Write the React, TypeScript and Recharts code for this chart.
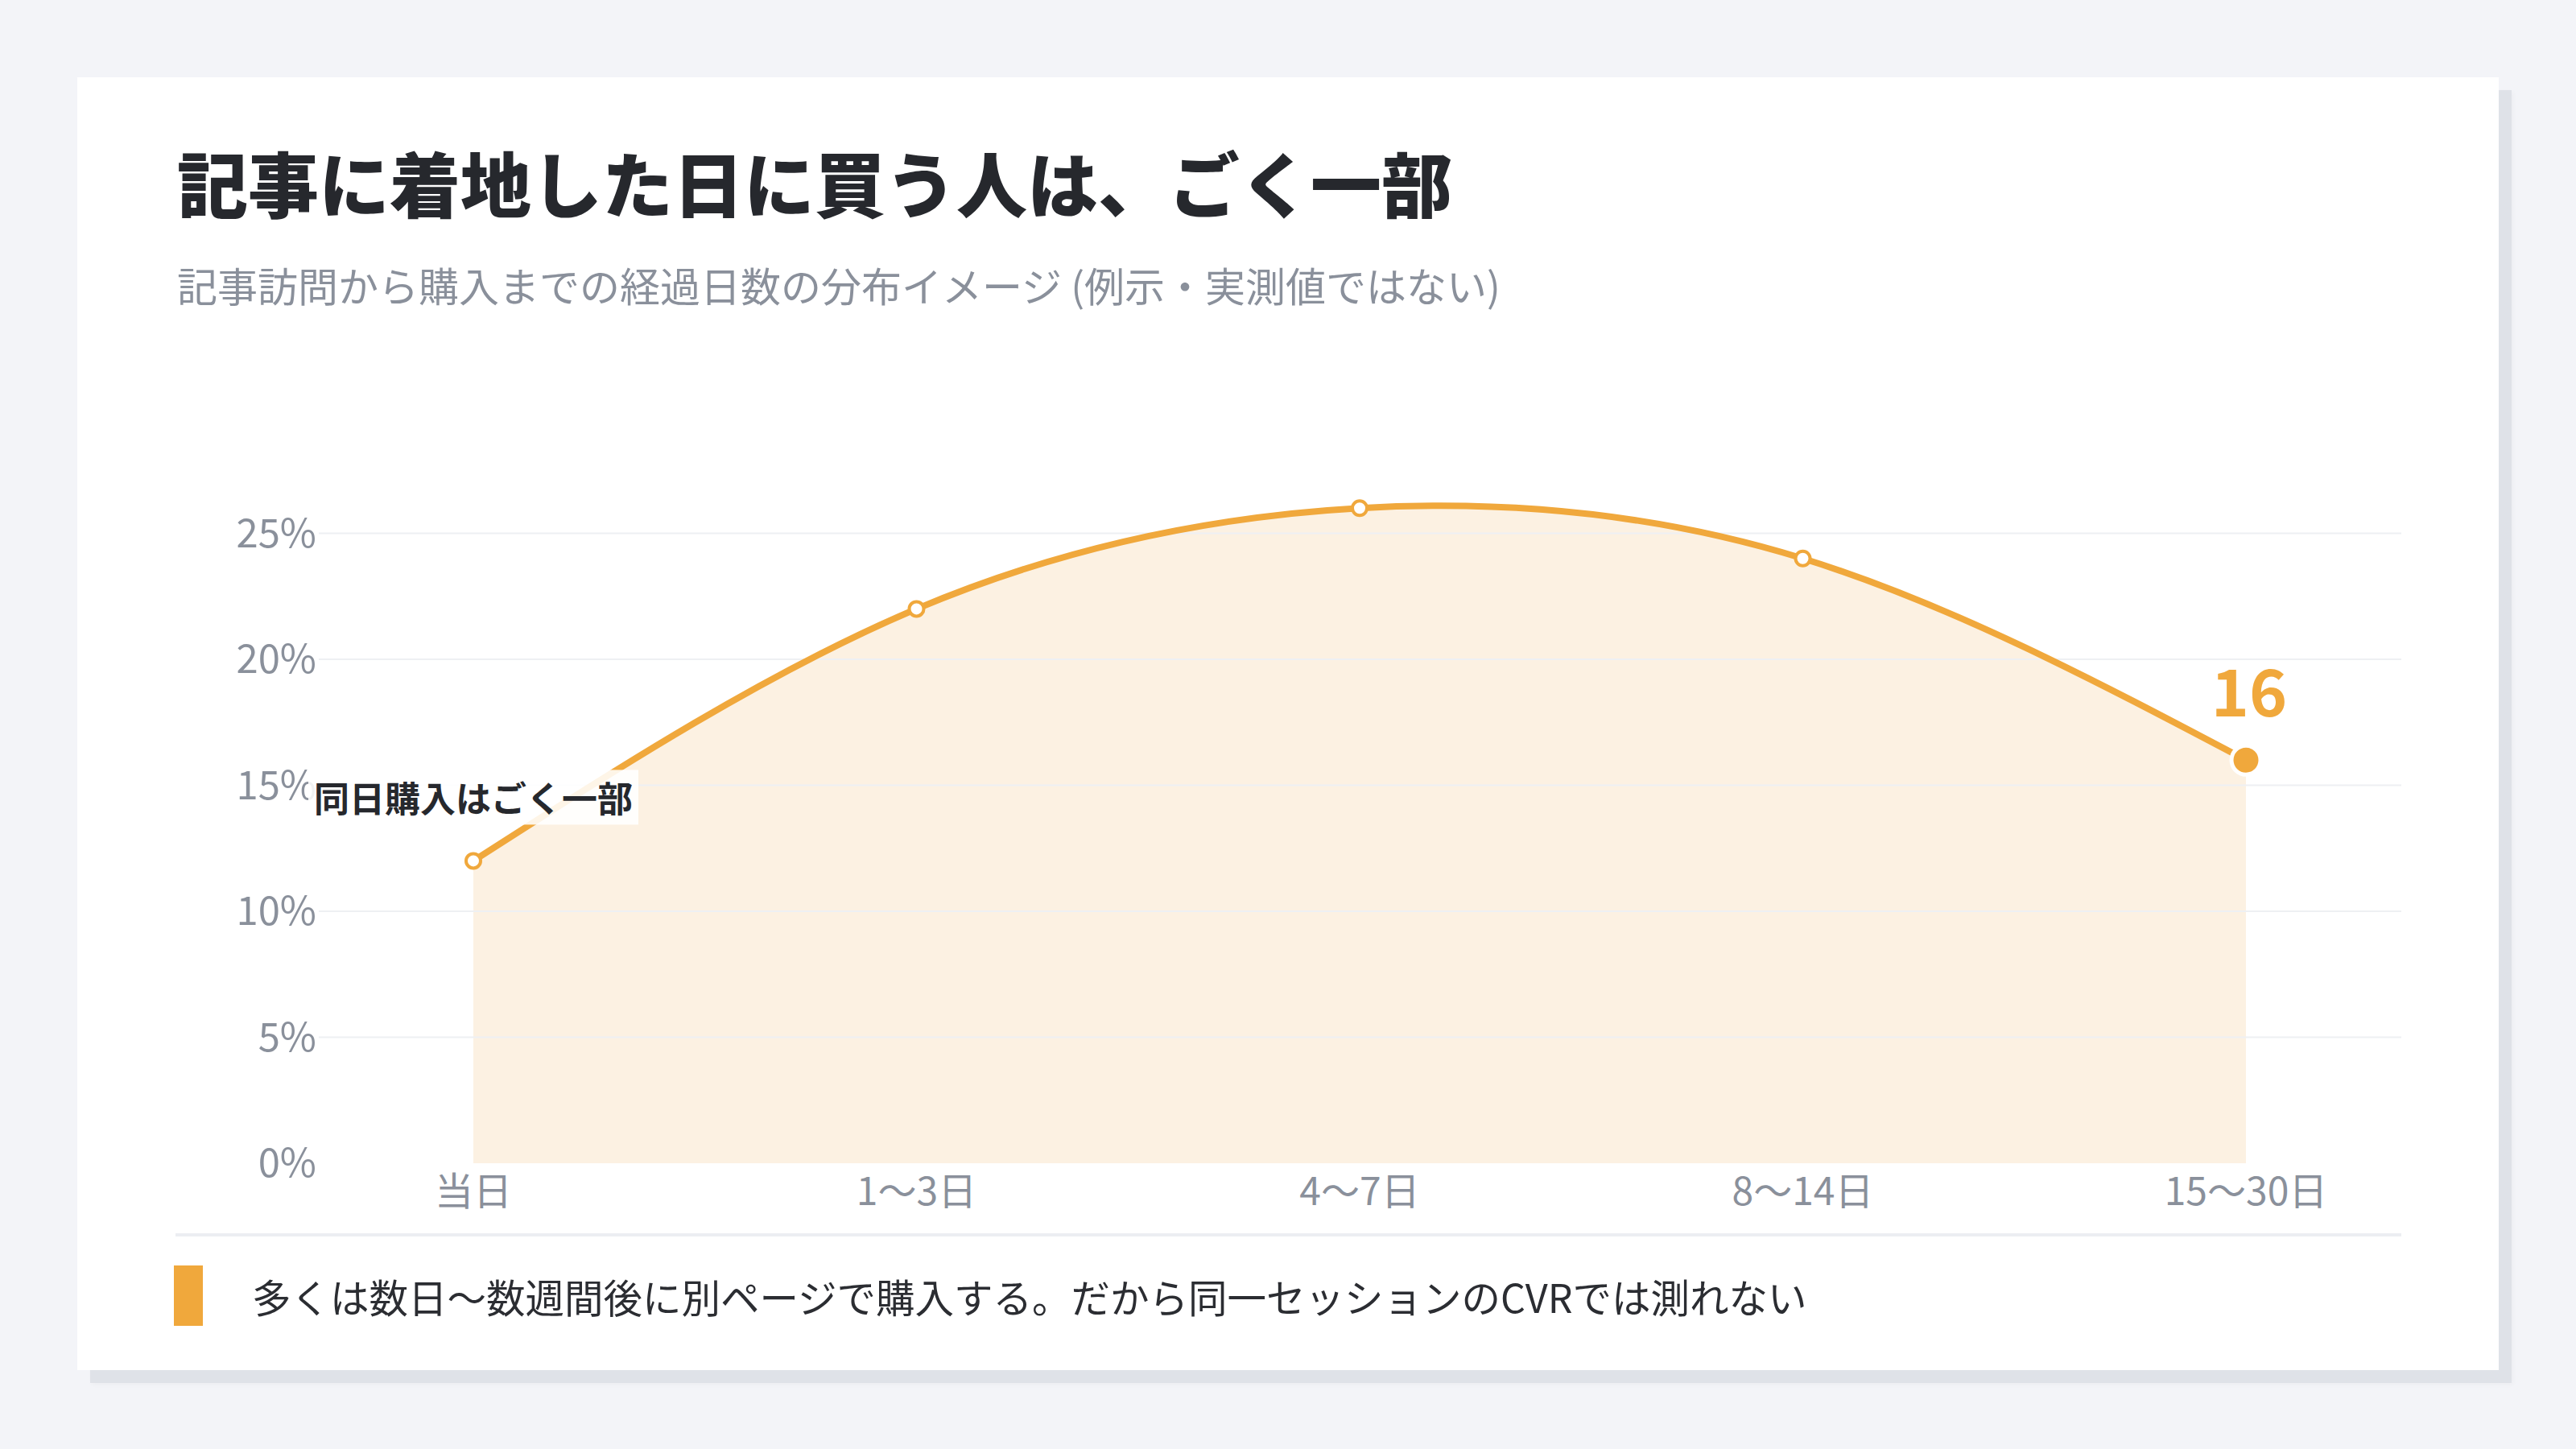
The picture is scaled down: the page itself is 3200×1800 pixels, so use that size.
import React from 'react';
import { ComposedChart, Area, Line, XAxis, YAxis, ReferenceLine, LabelList } from 'recharts';

const categories = ['当日', '1〜3日', '4〜7日', '8〜14日', '15〜30日'];
const shares = [12, 22, 26, 24, 16];
const yTicks = [0, 5, 10, 15, 20, 25];
const gridValues = [5, 10, 15, 20, 25];
const yDomain = [0, 30];
const title = '記事に着地した日に買う人は、ごく一部';
const subtitle = '記事訪問から購入までの経過日数の分布イメージ (例示・実測値ではない)';
const annotation = '同日購入はごく一部';
const footnote = '多くは数日〜数週間後に別ページで購入する。だから同一セッションのCVRでは測れない';

const data = categories.map((c, i) => ({ name: c, value: shares[i] }));

const ORANGE = '#f0a83c';
const FILL = '#fcf1e2';
const GRAY = '#8a909b';
const DARK = '#26282d';
const FONT = '"Noto Sans CJK JP", "Noto Sans", sans-serif';
const LAST = shares.length - 1;

const renderDot = (props: any) => {
  const { cx, cy, index } = props;
  if (cx == null || cy == null) return <g key={`d${index}`} />;
  if (index === LAST) {
    return <circle key={`d${index}`} cx={cx} cy={cy} r={18} fill={ORANGE} stroke="#ffffff" strokeWidth={5} />;
  }
  return <circle key={`d${index}`} cx={cx} cy={cy} r={9} fill="#ffffff" stroke={ORANGE} strokeWidth={4} />;
};

const renderLabel = (props: any) => {
  const { index, value } = props;
  const x = props.x ?? props.viewBox?.x;
  const y = props.y ?? props.viewBox?.y;
  if (x == null || y == null) return null;
  if (index === 0) {
    const w = 410;
    const h = 68;
    const cy = y - 79;
    return (
      <g>
        <rect x={x - w / 2} y={cy - h / 2} width={w} height={h} fill="#ffffff" fillOpacity={0.88} />
        <text x={x} y={cy} textAnchor="middle" dominantBaseline="central" fontFamily={FONT} fontSize={44} fontWeight={700} fill={DARK}>
          {annotation}
        </text>
      </g>
    );
  }
  if (index === LAST) {
    return (
      <text x={x + 4} y={y - 89} textAnchor="middle" dominantBaseline="central" fontFamily={FONT} fontSize={80} fontWeight={700} fill={ORANGE}>
        {value}
      </text>
    );
  }
  return null;
};

export default function App() {
  return (
    <div style={{ position: 'absolute', left: 0, top: 0, width: 3200, height: 1800, background: '#f3f4f8', fontFamily: FONT, overflow: 'hidden' }}>
      <div
        style={{
          position: 'absolute',
          left: 96,
          top: 96,
          width: 3008,
          height: 1606,
          background: '#ffffff',
          boxShadow: '16px 16px 0 #dfe2e8, 18px 18px 6px rgba(0,0,0,0.03)',
        }}
      />
      <div style={{ position: 'absolute', left: 220, top: 225, transform: 'translateY(-50%)', fontSize: 88, fontWeight: 900, color: DARK, whiteSpace: 'nowrap', lineHeight: 1 }}>
        {title}
      </div>
      <div style={{ position: 'absolute', left: 220, top: 353, transform: 'translateY(-50%)', fontSize: 50, fontWeight: 400, color: GRAY, whiteSpace: 'nowrap', lineHeight: 1 }}>
        {subtitle}
      </div>
      <div style={{ position: 'absolute', left: 96, top: 486 }}>
        <ComposedChart width={3008} height={1039} data={data} margin={{ top: 20, right: 121, bottom: 0, left: 150 }}>
          <XAxis
            dataKey="name"
            scale="point"
            padding={{ left: 192, right: 193 }}
            axisLine={false}
            tickLine={false}
            tickSize={0}
            tickMargin={18}
            height={80}
            interval={0}
            tick={{ fill: GRAY, fontSize: 48, fontFamily: FONT }}
          />
          <YAxis
            domain={yDomain}
            ticks={yTicks}
            width={150}
            axisLine={false}
            tickLine={false}
            tickSize={0}
            tickMargin={3}
            tickFormatter={(v: number) => `${v}%`}
            tick={{ fill: GRAY, fontSize: 49, fontFamily: FONT }}
          />
          {gridValues.map((v) => (
            <ReferenceLine key={v} y={v} stroke="#eef0f3" strokeWidth={2} />
          ))}
          <Area type="natural" dataKey="value" stroke="none" fill={FILL} fillOpacity={1} isAnimationActive={false} />
          <Line type="natural" dataKey="value" stroke={ORANGE} strokeWidth={8} dot={renderDot} activeDot={false} isAnimationActive={false}>
            <LabelList dataKey="value" content={renderLabel} />
          </Line>
        </ComposedChart>
      </div>
      <div style={{ position: 'absolute', left: 218, top: 1532, width: 2765, height: 4, background: '#eceef2' }} />
      <div style={{ position: 'absolute', left: 216, top: 1572, width: 36, height: 75, background: ORANGE }} />
      <div style={{ position: 'absolute', left: 313, top: 1610, transform: 'translateY(-50%)', fontSize: 48.5, color: '#2b2d32', whiteSpace: 'nowrap', lineHeight: 1 }}>
        {footnote}
      </div>
    </div>
  );
}
